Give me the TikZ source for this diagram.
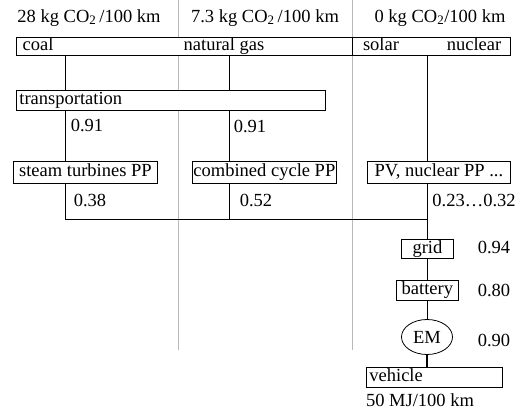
\documentclass[tikz,border=0pt]{standalone}
\usepackage{fontspec}
\setmainfont{Liberation Serif}
\usepackage{tikz}
\usetikzlibrary{shapes,positioning,calc}

\newcommand{\chainfont}{\fontsize{18.5}{21}\selectfont}

\tikzset{
  box/.style={draw, fill=white, line width=0.8pt, inner xsep=3pt, inner ysep=0pt,
    text height=12.5pt, text depth=4pt, anchor=north west},
  val/.style={inner sep=0pt, text height=12.5pt, text depth=4pt},
  link/.style={line width=0.8pt},
  divider/.style={draw=gray!55, line width=1pt}
}

\begin{document}
\begin{tikzpicture}[x=1pt, y=-1pt, font=\chainfont]
  \useasboundingbox (0,0) rectangle (528,412);

  % columns
  \draw[divider] (178,0) -- (178,350);
  \draw[divider] (352,0) -- (352,350);

  \node[val] (co2coal) at (89,18) {28 kg CO\textsubscript{2}\,/100 km};
  \node[val] (co2gas) at (265,18) {7.3 kg CO\textsubscript{2}\,/100 km};
  \node[val] (co2free) at (440,18) {0 kg CO\textsubscript{2}/100 km};

  % primary energy
  \node[box, minimum width=336pt, minimum height=18pt] (fossil) at (16,37) {};
  \node[box, minimum width=158pt, minimum height=18pt] (renew) at (352,37) {};
  \node[val] (coal) at (38,46) {coal};
  \node[val] (gas) at (224,46) {natural gas};
  \node[val] (solar) at (381,46) {solar};
  \node[val] (nuclear) at (474,46) {nuclear};

  \node[box, text width=303pt, align=left, minimum height=20pt] (transp) at (16,90) {transportation};

  % power plants
  \node[box, minimum width=144pt, minimum height=22pt, inner xsep=1pt] (steam) at (13,161) {steam turbines PP};
  \node[box, minimum width=144pt, minimum height=22pt, inner xsep=1pt] (ccpp) at (192,161) {combined cycle PP};
  \node[box, minimum width=143pt, minimum height=22pt] (pv) at (367,161) {PV, nuclear PP ...};

  \node[box, minimum width=52pt, minimum height=19pt] (grid) at (401,239) {grid};
  \node[box, minimum width=62pt, minimum height=20pt] (battery) at (396,280) {battery};
  \node[draw, ellipse, fill=white, line width=0.8pt, minimum width=51pt, minimum height=35pt, inner sep=0pt] (em) at (427,337) {EM};
  \node[box, text width=130pt, align=left, minimum height=20pt] (vehicle) at (366,367) {vehicle};
  \node[val] (demand) at (420,402) {50 MJ/100 km};

  % efficiencies
  \node[val] (etransp1) at (87,127) {0.91};
  \node[val] (etransp2) at (250,128) {0.91};
  \node[val] (esteam) at (90,202) {0.38};
  \node[val] (eccpp) at (256,202) {0.52};
  \node[val] (epv) at (474,202) {0.23\ldots0.32};
  \node[val] (egrid) at (494,249) {0.94};
  \node[val] (ebattery) at (494,292) {0.80};
  \node[val] (eem) at (494,342) {0.90};

  \coordinate (coalx) at (65,0);
  \coordinate (gasx) at (229,0);
  \coordinate (nucx) at (427,0);
  \coordinate (merge) at (427,219);

  \draw[link] (coalx |- fossil.south) -- (coalx |- transp.north)
    (coalx |- transp.south) -- (coalx |- steam.north)
    (coalx |- steam.south) -- (coalx |- merge) -- (merge);
  \draw[link] (gasx |- fossil.south) -- (gasx |- transp.north)
    (gasx |- transp.south) -- (gasx |- ccpp.north)
    (gasx |- ccpp.south) -- (gasx |- merge);
  \draw[link] (nucx |- renew.south) -- (nucx |- pv.north)
    (nucx |- pv.south) -- (nucx |- grid.north);
  \draw[link] (nucx |- grid.south) -- (nucx |- battery.north)
    (nucx |- battery.south) -- (em.north);
  \draw[line width=1.5pt] (em.south) -- (nucx |- vehicle.north);
\end{tikzpicture}
\end{document}
